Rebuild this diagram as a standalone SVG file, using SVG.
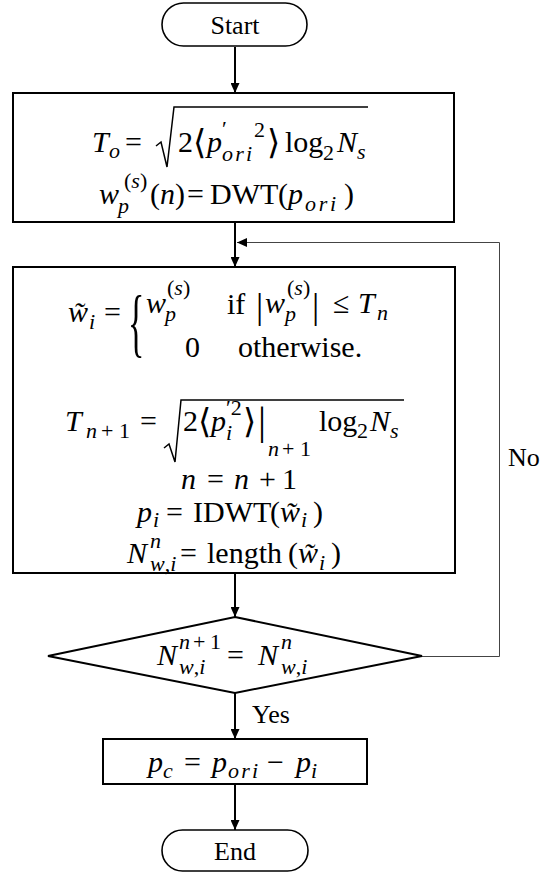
<svg xmlns="http://www.w3.org/2000/svg" width="542" height="875" viewBox="0 0 542 875">
<style>
.bg{fill:#fff}
.box{fill:#fff;stroke:#000;stroke-width:2}
.term{fill:#fff;stroke:#000;stroke-width:1.6}
.ln{fill:none;stroke:#000;stroke-width:2}
.thin{fill:none;stroke:#444;stroke-width:1}
.rad{fill:none;stroke:#000;stroke-width:1.5;stroke-linejoin:miter}
.t{font-family:"Liberation Serif","Times New Roman",serif;font-size:26px;fill:#000}
.m{font-family:"Liberation Serif","Times New Roman",serif;font-size:30px;fill:#000}
.i{font-style:italic}
.u{font-style:normal}
.s{font-size:22px}
.br{font-family:"DejaVu Serif",serif;font-size:34px;font-style:normal}
</style>
<defs>
<marker id="ah" viewBox="0 0 10 9" refX="10" refY="4.5" markerWidth="10" markerHeight="9" markerUnits="userSpaceOnUse" orient="auto">
<path d="M0,0 L10,4.5 L0,9 z" fill="#000"/>
</marker>
</defs>
<rect class="bg" x="0" y="0" width="542" height="875"/>

<g id="connectors">
<path class="ln" d="M235,47 V93" marker-end="url(#ah)"/>
<path class="ln" d="M235,222 V267" marker-end="url(#ah)"/>
<path class="ln" d="M235,573 V617" marker-end="url(#ah)"/>
<path class="ln" d="M235,693 V739" marker-end="url(#ah)"/>
<path class="ln" d="M235,784 V830" marker-end="url(#ah)"/>
<path class="thin" d="M422,656.5 H499.5 V242.5 H237" marker-end="url(#ah)"/>
<text class="t" x="508" y="466">No</text>
<text class="t" x="252" y="723">Yes</text>
</g>

<g id="start">
<rect class="term" x="162" y="3" width="145" height="43" rx="21.5"/>
<text class="t" x="235" y="34" text-anchor="middle">Start</text>
</g>

<g id="box1">
<rect class="box" x="13" y="93" width="441" height="129"/>
<path class="rad" d="M156,146 L161,142 L167,167 L174,107 H368"/>
<text class="m"><tspan class="i" x="92" y="152">T</tspan><tspan class="i s" x="109" y="158">o</tspan><tspan x="125" y="152">=</tspan><tspan x="178" y="152">2</tspan><tspan class="br" x="193" y="154">⟨</tspan><tspan class="i" x="207" y="152">p</tspan><tspan class="s" x="222" y="136">′</tspan><tspan class="i s" x="222" y="161" textLength="30" lengthAdjust="spacing">ori</tspan><tspan class="s" x="254" y="137">2</tspan><tspan class="br" x="267" y="154">⟩</tspan><tspan x="285" y="152">log</tspan><tspan class="s" x="323" y="160">2</tspan><tspan class="i" x="337" y="152">N</tspan><tspan class="i s" x="357" y="159">s</tspan></text>
<text class="m"><tspan class="i" x="99" y="204">w</tspan><tspan class="i s" x="118" y="213">p</tspan><tspan class="s" x="124" y="188">(</tspan><tspan class="i s">s</tspan><tspan class="s">)</tspan><tspan x="150" y="204">(</tspan><tspan class="i" x="160" y="204">n</tspan><tspan x="175" y="204">)</tspan><tspan x="187" y="204">=</tspan><tspan x="210" y="204">DWT</tspan><tspan x="278" y="204">(</tspan><tspan class="i" x="288" y="204">p</tspan><tspan class="i s" x="305" y="211" textLength="31" lengthAdjust="spacing">ori</tspan><tspan x="344" y="204">)</tspan></text>
</g>

<g id="box2">
<rect class="box" x="13" y="267" width="442" height="306"/>
<text class="m" transform="translate(128,348) scale(1,2.27)" style="font-size:34px">{</text>
<text class="m"><tspan class="i" x="68" y="322">w̃</tspan><tspan class="i s" x="89" y="329">i</tspan><tspan x="104" y="322">=</tspan><tspan class="i" x="146" y="313">w</tspan><tspan class="i s" x="165" y="321">p</tspan><tspan class="s" x="167" y="295">(</tspan><tspan class="i s">s</tspan><tspan class="s">)</tspan><tspan x="227" y="314">if</tspan><tspan x="256" y="318" style="font-size:36px">|</tspan><tspan class="i" x="265" y="313">w</tspan><tspan class="i s" x="285" y="321">p</tspan><tspan class="s" x="287" y="295">(</tspan><tspan class="i s">s</tspan><tspan class="s">)</tspan><tspan x="312" y="318" style="font-size:36px">|</tspan><tspan x="333" y="313">≤</tspan><tspan class="i" x="358" y="313">T</tspan><tspan class="i s" x="377" y="320">n</tspan></text>
<text class="m"><tspan x="185" y="357">0</tspan><tspan x="238" y="357">otherwise.</tspan></text>

<path class="rad" d="M164,448 L169,444 L175,462 L181,400 H404"/>
<text class="m"><tspan class="i" x="65" y="431">T</tspan><tspan class="i s" x="86" y="438">n</tspan><tspan class="s" x="101" y="438">+</tspan><tspan class="s" x="119" y="438">1</tspan><tspan x="140" y="431">=</tspan><tspan x="183" y="431">2</tspan><tspan class="br" x="198" y="433">⟨</tspan><tspan class="i" x="211" y="431">p</tspan><tspan class="s" x="226" y="415">′2</tspan><tspan class="i s" x="226" y="440">i</tspan><tspan class="br" x="243" y="433">⟩</tspan><tspan x="258" y="434" style="font-size:40px">|</tspan><tspan class="i s" x="268" y="456">n</tspan><tspan class="s" x="282" y="456">+</tspan><tspan class="s" x="300" y="456">1</tspan><tspan x="319" y="431">log</tspan><tspan class="s" x="357" y="438">2</tspan><tspan class="i" x="370" y="431">N</tspan><tspan class="i s" x="390" y="438">s</tspan></text>

<text class="m"><tspan class="i" x="181" y="489">n</tspan><tspan x="207" y="489">=</tspan><tspan class="i" x="234" y="489">n</tspan><tspan x="259" y="489">+</tspan><tspan x="282" y="489">1</tspan></text>

<text class="m"><tspan class="i" x="137" y="522">p</tspan><tspan class="i s" x="153" y="527">i</tspan><tspan x="166" y="522">=</tspan><tspan x="193" y="522">IDWT</tspan><tspan x="270" y="522">(</tspan><tspan class="i" x="280" y="522">w̃</tspan><tspan class="i s" x="301" y="527">i</tspan><tspan x="313" y="522">)</tspan></text>

<text class="m"><tspan class="i" x="127" y="563">N</tspan><tspan class="i s" x="150" y="548">n</tspan><tspan class="i s" x="150" y="571">w</tspan><tspan class="s u">,</tspan><tspan class="i s">i</tspan><tspan x="180" y="563">=</tspan><tspan x="207" y="563">length</tspan><tspan x="288" y="563">(</tspan><tspan class="i" x="298" y="563">w̃</tspan><tspan class="i s" x="319" y="570">i</tspan><tspan x="331" y="563">)</tspan></text>
</g>

<g id="decision">
<polygon class="box" points="235,617 422,656 235,693 48,656"/>
<text class="m"><tspan class="i" x="157" y="665">N</tspan><tspan class="i s" x="179" y="649">n</tspan><tspan class="s" x="193" y="649">+</tspan><tspan class="s" x="210" y="649">1</tspan><tspan class="i s" x="179" y="674">w</tspan><tspan class="s u">,</tspan><tspan class="i s">i</tspan><tspan x="227" y="665">=</tspan><tspan class="i" x="258" y="665">N</tspan><tspan class="i s" x="281" y="649">n</tspan><tspan class="i s" x="281" y="674">w</tspan><tspan class="s u">,</tspan><tspan class="i s">i</tspan></text>
</g>

<g id="box3">
<rect class="box" x="103" y="739" width="264" height="45"/>
<text class="m"><tspan class="i" x="148" y="772">p</tspan><tspan class="i s" x="163" y="778">c</tspan><tspan x="184" y="772">=</tspan><tspan class="i" x="212" y="772">p</tspan><tspan class="i s" x="228" y="778" textLength="30" lengthAdjust="spacing">ori</tspan><tspan x="267" y="772">−</tspan><tspan class="i" x="296" y="772">p</tspan><tspan class="i s" x="311" y="778">i</tspan></text>
</g>

<g id="end">
<rect class="term" x="162" y="830" width="146" height="41" rx="20.5"/>
<text class="t" x="235" y="860" text-anchor="middle">End</text>
</g>
</svg>
